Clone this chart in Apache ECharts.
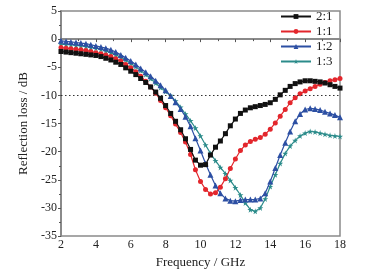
<!DOCTYPE html>
<html>
<head>
<meta charset="utf-8">
<script src="https://cdn.jsdelivr.net/npm/echarts@6/dist/echarts.min.js"></script>
<style>
html, body { margin: 0; padding: 0; background: #fff; }
#rl-chart { width: 367px; height: 274px; }
</style>
</head>
<body>
<div id="rl-chart"></div>
<script>
// frequency points (GHz)
var freq = [2.00, 2.29, 2.57, 2.86, 3.14, 3.43, 3.71, 4.00, 4.29, 4.57, 4.86, 5.14, 5.43, 5.71,
    6.00, 6.29, 6.57, 6.86, 7.14, 7.43, 7.71, 8.00, 8.29, 8.57, 8.86, 9.14, 9.43, 9.71,
    10.00, 10.29, 10.57, 10.86, 11.14, 11.43, 11.71, 12.00, 12.29, 12.57, 12.86, 13.14, 13.43, 13.71,
    14.00, 14.29, 14.57, 14.86, 15.14, 15.43, 15.71, 16.00, 16.29, 16.57, 16.86, 17.14, 17.43, 17.71, 18.00];

var seriesNames = ['2:1', '1:1', '1:2', '1:3'];

var rl21 = [-2.2, -2.3, -2.4, -2.5, -2.6, -2.7, -2.8, -2.9, -3.1, -3.4, -3.7, -4.1, -4.5, -5.1,
    -5.7, -6.3, -7.0, -7.7, -8.5, -9.4, -10.5, -11.8, -13.2, -14.6, -16.1, -17.7, -19.6, -21.5,
    -22.4, -22.3, -20.6, -19.2, -18.1, -16.8, -15.4, -14.2, -13.2, -12.6, -12.2, -12.0, -11.8, -11.6,
    -11.3, -10.7, -9.9, -9.1, -8.4, -7.9, -7.6, -7.4, -7.4, -7.5, -7.6, -7.8, -8.1, -8.4, -8.7];

var rl11 = [-1.5, -1.6, -1.7, -1.8, -1.9, -2.0, -2.2, -2.4, -2.6, -2.8, -3.1, -3.5, -3.9, -4.5,
    -5.1, -5.8, -6.6, -7.5, -8.5, -9.6, -10.9, -12.2, -13.6, -15.1, -16.6, -18.3, -20.5, -23.2,
    -25.3, -26.7, -27.5, -27.3, -26.3, -24.8, -23.0, -21.3, -19.8, -18.8, -18.2, -17.8, -17.5, -16.9,
    -16.0, -14.9, -13.7, -12.5, -11.3, -10.4, -9.7, -9.2, -8.8, -8.4, -8.0, -7.7, -7.4, -7.2, -7.0];

var rl12 = [-0.3, -0.4, -0.5, -0.6, -0.7, -0.8, -1.0, -1.2, -1.4, -1.6, -1.9, -2.3, -2.8, -3.3,
    -3.9, -4.5, -5.2, -5.9, -6.6, -7.4, -8.2, -9.1, -10.1, -11.2, -12.4, -13.8, -15.5, -17.6,
    -19.8, -22.1, -24.1, -26.0, -27.4, -28.3, -28.7, -28.8, -28.6, -28.5, -28.5, -28.5, -28.3, -27.4,
    -25.3, -22.9, -20.6, -18.4, -16.4, -14.6, -13.3, -12.5, -12.3, -12.4, -12.6, -12.9, -13.2, -13.5, -13.9];

var rl13 = [-0.9, -1.0, -1.0, -1.1, -1.2, -1.3, -1.5, -1.6, -1.8, -2.1, -2.4, -2.8, -3.2, -3.7,
    -4.3, -4.9, -5.6, -6.3, -7.0, -7.8, -8.6, -9.3, -10.0, -11.0, -12.1, -13.3, -14.5, -15.8,
    -17.2, -18.8, -20.3, -21.6, -22.8, -23.9, -25.1, -26.4, -27.7, -29.1, -30.3, -30.6, -30.0, -28.4,
    -26.2, -24.1, -22.1, -20.3, -19.0, -18.0, -17.2, -16.7, -16.4, -16.5, -16.7, -16.9, -17.1, -17.2, -17.3];

var refLine = -10;

var colors = ['#111111', '#e3262c', '#2c4fa3', '#2b8b8a'];
var symbols = ['rect', 'circle', 'triangle',
    'path://M50,0 L61,35 L98,35 L68,57 L79,91 L50,70 L21,91 L32,57 L2,35 L39,35 Z'];
var symbolSizes = [5, 5, 6, 6];

var font = 'Liberation Serif';

function pairs(values) {
    var out = [];
    for (var i = 0; i < freq.length; i++) {
        out.push([freq[i], values[i]]);
    }
    return out;
}

var allValues = [rl21, rl11, rl12, rl13];

var rlChart = echarts.init(document.getElementById('rl-chart'));

var seriesList = [];
for (var s = 0; s < allValues.length; s++) {
    var item = {
        name: seriesNames[s],
        type: 'line',
        data: pairs(allValues[s]),
        symbol: symbols[s],
        symbolSize: symbolSizes[s],
        showAllSymbol: true,
        lineStyle: { width: 1.2, color: colors[s] },
        itemStyle: { color: colors[s] },
        z: 5 - s
    };
    if (s === 0) {
        item.markLine = {
            silent: true,
            symbol: 'none',
            label: { show: false },
            lineStyle: { type: [1.5, 2.5], color: '#333', width: 1 },
            data: [{ yAxis: refLine }]
        };
    }
    seriesList.push(item);
}

var rlOption = {
    animation: false,
    color: colors,
    grid: {
        left: 61,
        right: 27,
        top: 11,
        bottom: 37,
        show: true,
        borderColor: '#8a8a8a',
        borderWidth: 1.5
    },
    legend: {
        orient: 'vertical',
        left: 275,
        top: 5,
        itemWidth: 30,
        itemHeight: 6,
        itemGap: 2,
        textStyle: { fontFamily: font, fontSize: 13, color: '#222' },
        data: seriesNames
    },
    xAxis: {
        type: 'value',
        min: 2,
        max: 18,
        interval: 2,
        name: 'Frequency / GHz',
        nameLocation: 'middle',
        nameGap: 17,
        nameTextStyle: { fontFamily: font, fontSize: 13, color: '#222' },
        axisLine: { lineStyle: { color: '#8a8a8a', width: 2 } },
        axisTick: { length: 3, lineStyle: { color: '#555' } },
        minorTick: { show: true, splitNumber: 2, length: 2, lineStyle: { color: '#555' } },
        axisLabel: { fontFamily: font, fontSize: 12, color: '#222', margin: 3 },
        splitLine: { show: false }
    },
    yAxis: {
        type: 'value',
        min: -35,
        max: 5,
        interval: 5,
        name: 'Reflection loss / dB',
        nameLocation: 'middle',
        nameGap: 23,
        nameTextStyle: { fontFamily: font, fontSize: 13, color: '#222' },
        axisLine: { lineStyle: { color: '#8a8a8a', width: 2 } },
        axisTick: { length: 3, lineStyle: { color: '#555' } },
        minorTick: { show: true, splitNumber: 2, length: 2, lineStyle: { color: '#555' } },
        axisLabel: { fontFamily: font, fontSize: 12, color: '#222', margin: 4 },
        splitLine: { show: false }
    },
    series: seriesList
};

rlChart.setOption(rlOption);
</script>
</body>
</html>
